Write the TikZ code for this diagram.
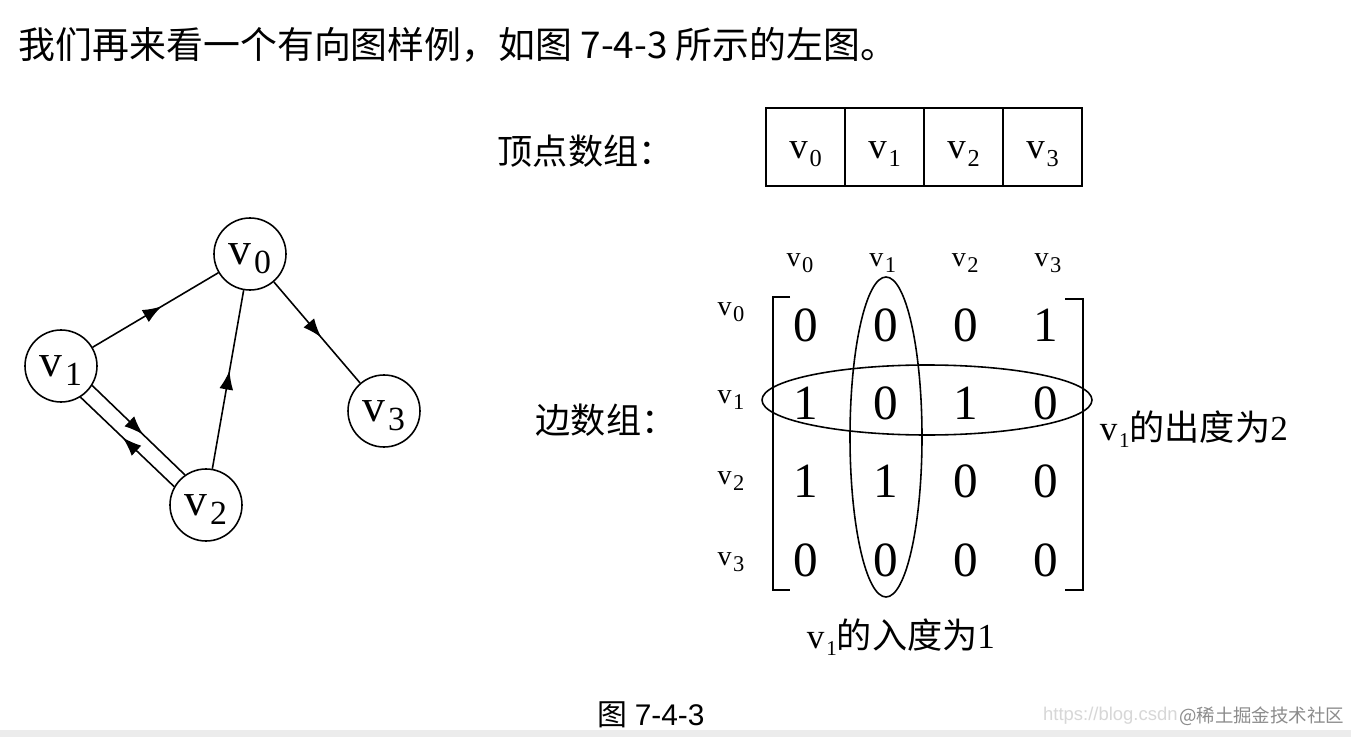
\documentclass[tikz,border=0pt]{standalone}
\usepackage{fontspec}
\setmainfont{Liberation Serif}
\setsansfont{Liberation Sans}
\newfontfamily\cjk{Noto Sans CJK SC}
\usepackage{graphicx}
\usetikzlibrary{arrows.meta,decorations.markings}
\definecolor{markGray}{RGB}{140,140,140}
\definecolor{urlGray}{RGB}{215,215,215}
\definecolor{stripGray}{RGB}{236,236,236}

\newcommand{\vname}[2][0.8]{v\kern0.05em\raisebox{-0.45ex}{\scalebox{#1}{#2}}}

\begin{document}
\begin{tikzpicture}[
  line width=0.9pt,
  >={Latex[length=3.8mm,width=2.8mm]},
  vtx/.style={
    draw,
    circle,
    fill=white,
    minimum size=14.4mm,
    inner sep=0pt,
    text height=12pt,
    text depth=0pt,
    font=\fontsize{26}{30}\selectfont,
  },
  midarrow/.style={
    postaction={decorate},
    decoration={markings, mark=at position 0.55 with {\arrow{>}}},
  },
  cell/.style={
    draw,
    minimum width=15.8mm,
    minimum height=15.6mm,
    inner sep=0pt,
    text height=13pt,
    text depth=0pt,
    font=\fontsize{21}{24}\selectfont,
  },
  entry/.style={inner sep=0pt, font=\fontsize{28}{32}\selectfont},
  hdr/.style={inner sep=0pt, font=\fontsize{16}{19}\selectfont},
  cjklbl/.style={inner sep=0pt, font=\fontsize{20}{24}\selectfont\cjk},
]

  \fill[white] (0,0) rectangle (27.02,14.74);
  \useasboundingbox (0,0) rectangle (27.02,14.74);
  \fill[stripGray] (0,0) rectangle (27.02,0.14);

  \node[anchor=west, inner sep=0pt, font=\fontsize{21}{25}\selectfont\cjk] (intro)
    at (0.36,13.84) {我们再来看一个有向图样例，如图 7-4-3 所示的左图。};

  % directed graph
  \node[vtx] (v0) at (5.00,9.66) {\vname[0.74]{0}};
  \node[vtx] (v1) at (1.22,7.42) {\vname[0.74]{1}};
  \node[vtx] (v2) at (4.12,4.64) {\vname[0.74]{2}};
  \node[vtx] (v3) at (7.68,6.52) {\vname[0.74]{3}};

  \draw[midarrow] (v1) -- (v0);
  \draw[midarrow] (v0) -- (v3);
  \draw[midarrow] (v2) -- (v0);
  \draw[midarrow] (v1.-32) -- (v2.125);
  \draw[midarrow] (v2.150) -- (v1.-58);

  % vertex array
  \node[cjklbl, anchor=west] (vlbl) at (9.94,11.72) {顶点数组：};
  \foreach \i in {0,...,3}
    \node[cell] (cell\i) at (16.11+1.58*\i,11.80) {\vname[0.66]{\i}};

  % edge array
  \node[cjklbl, anchor=west] (elbl) at (10.70,6.34) {边数组：};
  \foreach \c in {0,...,3}
    \node[hdr] (col\c) at (16.00+1.653*\c,9.48) {\vname{\c}};
  \foreach \r/\y in {0/8.50,1/6.74,2/5.12,3/3.50}
    \node[hdr] (row\r) at (14.62,\y) {\vname{\r}};
  \foreach \vals [count=\r from 0] in {{0,0,0,1},{1,0,1,0},{1,1,0,0},{0,0,0,0}}
    \foreach \val [count=\c from 0] in \vals
      \node[entry] (m\r\c) at (16.12+1.6*\c,8.24-1.567*\r) {\val};

  \draw[line width=1.1pt] (15.80,8.80) -- (15.46,8.80) -- (15.46,2.94) -- (15.80,2.94);
  \draw[line width=1.1pt] (21.30,8.76) -- (21.66,8.76) -- (21.66,2.94) -- (21.30,2.94);

  \draw (17.72,6.00) ellipse [x radius=0.72, y radius=3.2];
  \draw (18.54,6.74) ellipse [x radius=3.3, y radius=0.7];

  \node[anchor=west, inner sep=0pt, font=\fontsize{20}{24}\selectfont] (outdeg)
    at (21.98,6.16) {\vname[0.6]{1}{\cjk 的出度为}2};
  \node[inner sep=0pt, font=\fontsize{20}{24}\selectfont] (indeg)
    at (18.02,2.00) {\vname[0.6]{1}{\cjk 的入度为}1};

  \node[inner sep=0pt, font=\fontsize{17}{20}\selectfont] (cap)
    at (13.02,0.44) {{\cjk 图} {\sffamily 7-4-3}};

  % watermark
  \node[anchor=east, inner sep=0pt, text=markGray, font=\fontsize{10.5}{12}\selectfont\cjk] (wm)
    at (26.90,0.42) {@稀土掘金技术社区};
  \node[anchor=east, inner sep=0pt, text=urlGray, font=\fontsize{10.5}{12}\selectfont\sffamily] (url)
    at (wm.west) {https://blog.csdn};

\end{tikzpicture}
\end{document}
